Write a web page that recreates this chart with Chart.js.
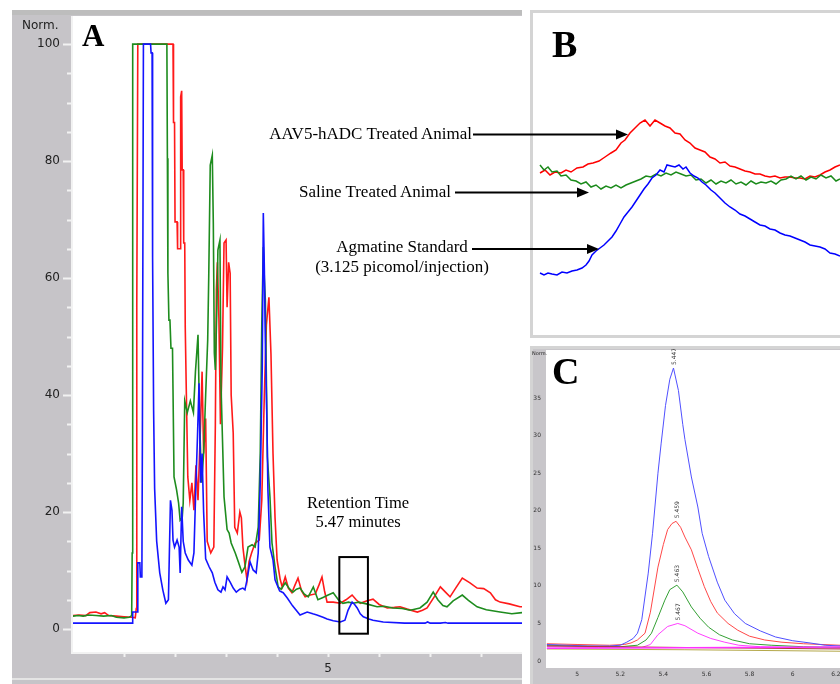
<!DOCTYPE html>
<html>
<head>
<meta charset="utf-8">
<script src="https://cdn.jsdelivr.net/npm/chart.js@4.4.1/dist/chart.umd.min.js"></script>
<style>
body { margin: 0; width: 840px; height: 684px; position: relative; background: #fff; overflow: hidden; }
.abs { position: absolute; }
.note { position: absolute; font-family: "Liberation Serif", serif; font-size: 17px; line-height: 17px; color: #000; white-space: nowrap; }
.letter { position: absolute; font-family: "Liberation Serif", serif; font-weight: bold; line-height: 1; color: #000; }
.norm { position: absolute; font-family: "DejaVu Sans", sans-serif; color: #222; white-space: nowrap; }
</style>
</head>
<body>

<!-- panel A frame -->
<div class="abs" style="left:12px;top:10px;width:510px;height:5px;background:#bdbdbd"></div>
<div class="abs" style="left:12px;top:15px;width:510px;height:663px;background:#c6c4c8">
  <canvas id="chartA" width="510" height="663"></canvas>
</div>
<div class="abs" style="left:12px;top:678px;width:510px;height:2px;background:#e4e4e4"></div>
<div class="abs" style="left:12px;top:680px;width:510px;height:4px;background:#c6c4c8"></div>
<div class="norm" style="left:22px;top:19px;font-size:12px;line-height:12px">Norm.</div>
<div class="letter" style="left:82px;top:20px;font-size:31px">A</div>

<!-- panel B frame -->
<div class="abs" style="left:530px;top:10px;width:320px;height:322px;border:3px solid #d4d4d4;background:#fff"></div>
<div class="abs" style="left:533px;top:13px;width:307px;height:322px">
  <canvas id="chartB" width="307" height="322"></canvas>
</div>
<div class="letter" style="left:552px;top:25px;font-size:38px">B</div>

<!-- panel C frame -->
<div class="abs" style="left:530px;top:346px;width:320px;height:345px;border:3px solid #d4d4d4;background:#c8c6ca"></div>
<div class="abs" style="left:533px;top:349px;width:307px;height:335px">
  <canvas id="chartC" width="307" height="335"></canvas>
</div>
<div class="norm" style="left:532px;top:351px;font-size:5px;line-height:5px">Norm.</div>
<div class="letter" style="left:552px;top:352px;font-size:38px">C</div>

<!-- annotations -->
<div class="note" style="right:368px;top:125px">AAV5-hADC Treated Animal</div>
<div class="note" style="right:389px;top:183px">Saline Treated Animal</div>
<div class="note" style="left:302px;width:200px;text-align:center;top:238px">Agmatine Standard</div>
<div class="note" style="left:302px;width:200px;text-align:center;top:258px">(3.125 picomol/injection)</div>
<div class="note" style="left:258px;width:200px;text-align:center;top:494px;font-size:16.5px">Retention Time</div>
<div class="note" style="left:258px;width:200px;text-align:center;top:513px;font-size:16.5px">5.47 minutes</div>

<svg class="abs" style="left:0;top:0" width="840" height="684">
  <g stroke="#000" stroke-width="2">
    <line x1="473" y1="134.5" x2="618" y2="134.5"/>
    <line x1="455" y1="192.5" x2="579" y2="192.5"/>
    <line x1="472" y1="249" x2="589" y2="249"/>
  </g>
  <g fill="#000">
    <polygon points="628,134.5 616,129.5 616,139.5"/>
    <polygon points="589,192.5 577,187.5 577,197.5"/>
    <polygon points="599,249 587,244 587,254"/>
  </g>
</svg>

<script>
// ---- Panel A: full chromatogram (time in minutes, normalised response) ----
const aRed = [[0,2.3],[0.12,2.4],[0.25,2.3],[0.33,2.8],[0.45,2.9],[0.55,2.6],[0.62,2.8],[0.7,2.3],[0.85,2.2],[1.0,2.1],[1.15,2.0],[1.22,1.9],[1.24,3.5],[1.25,55],[1.27,100],[1.96,100],[1.97,86.6],[1.99,86.6],[2.0,69.6],[2.04,69.6],[2.05,65],[2.1,65],[2.11,91],[2.13,92],[2.14,78.5],[2.16,78.5],[2.17,66],[2.19,66],[2.2,51.6],[2.22,41],[2.25,26],[2.29,22],[2.33,25],[2.37,20.3],[2.41,28],[2.45,22],[2.5,35],[2.53,44],[2.56,30],[2.6,36],[2.63,15],[2.7,13],[2.76,14],[2.79,35],[2.81,58],[2.83,62.7],[2.86,53],[2.89,35],[2.93,48],[2.96,66],[3.0,66.5],[3.02,55],[3.05,62.7],[3.08,60.8],[3.1,40],[3.14,33.5],[3.17,17.4],[3.22,16.4],[3.27,20],[3.3,19],[3.33,14],[3.37,11],[3.41,8.4],[3.45,11.5],[3.5,13],[3.57,14.7],[3.65,15.2],[3.7,22],[3.75,40],[3.79,52],[3.84,56.7],[3.88,47],[3.92,30],[3.96,19],[4.0,11.8],[4.06,8.5],[4.1,7.2],[4.16,8.9],[4.22,7.0],[4.29,6.2],[4.35,7.5],[4.41,8.7],[4.48,6.5],[4.55,5.5],[4.65,5.8],[4.75,6.0],[4.82,7.5],[4.88,8.9],[4.93,6.5],[4.98,4.6],[5.1,4.6],[5.24,4.4],[5.35,5.0],[5.47,5.8],[5.55,5.0],[5.63,4.4],[5.75,4.8],[5.88,5.1],[6.0,4.2],[6.16,3.6],[6.3,3.7],[6.41,3.8],[6.55,3.4],[6.75,2.9],[6.85,3.2],[6.94,3.6],[7.08,5.5],[7.2,7.2],[7.3,6.3],[7.39,5.5],[7.5,7.0],[7.63,8.7],[7.78,7.9],[7.92,7.0],[8.05,6.9],[8.18,6.2],[8.28,5.0],[8.37,4.6],[8.55,4.3],[8.76,3.8],[8.8,3.8]];
const aGreen = [[0,2.2],[0.1,2.3],[0.2,2.2],[0.3,2.4],[0.45,2.3],[0.6,2.2],[0.75,2.3],[0.85,2.0],[1.0,1.9],[1.1,2.0],[1.15,2.3],[1.16,13],[1.17,100],[1.84,100],[1.85,80.5],[1.86,60.8],[1.88,52.8],[1.9,52.8],[1.92,48],[1.95,48],[1.96,40.9],[1.98,26],[2.03,23.8],[2.07,21.5],[2.1,18.6],[2.14,19],[2.16,21.5],[2.19,39],[2.24,37],[2.3,39],[2.36,37],[2.4,44],[2.45,50.3],[2.48,36],[2.52,25],[2.56,30],[2.6,40],[2.64,49.4],[2.66,60],[2.69,79.3],[2.73,81],[2.75,69.4],[2.77,47.2],[2.79,44.3],[2.82,55],[2.84,64.8],[2.88,66.5],[2.9,42],[2.93,32.3],[2.96,22.6],[3.02,17],[3.06,16.4],[3.1,14.7],[3.18,13],[3.24,11.5],[3.31,9.7],[3.37,10.6],[3.43,14],[3.51,14.4],[3.57,14],[3.63,17.4],[3.67,30],[3.7,52],[3.73,65.3],[3.75,60],[3.77,56.2],[3.81,29.4],[3.86,22.6],[3.9,14.7],[3.96,10.6],[4.02,7.2],[4.08,6.8],[4.16,7.9],[4.24,6.9],[4.31,6.3],[4.38,6.8],[4.45,7.0],[4.53,6.0],[4.61,5.5],[4.71,7.2],[4.8,5.0],[4.9,5.4],[5.0,5.8],[5.1,6.2],[5.2,5.0],[5.29,4.4],[5.4,4.6],[5.49,4.4],[5.6,4.6],[5.75,4.3],[5.96,3.8],[6.1,3.9],[6.27,3.6],[6.45,3.5],[6.61,3.2],[6.8,3.6],[6.94,4.6],[7.06,6.3],[7.15,5.0],[7.25,4.0],[7.33,3.8],[7.45,4.8],[7.63,5.8],[7.75,4.9],[7.92,3.8],[8.1,3.3],[8.37,2.9],[8.6,2.6],[8.8,2.8]];
const aBlue = [[0,1.0],[1.0,1.0],[1.16,1.0],[1.17,2.9],[1.26,2.9],[1.27,11.3],[1.31,11.3],[1.32,8.9],[1.35,8.9],[1.36,32.8],[1.38,100],[1.52,100],[1.53,98.5],[1.55,98.5],[1.56,63.6],[1.58,37.4],[1.6,24],[1.64,15],[1.7,9.6],[1.76,6.7],[1.82,4.4],[1.87,5],[1.91,22],[1.94,20.3],[1.96,15.2],[1.99,14],[2.04,15.2],[2.08,14],[2.1,9.6],[2.13,20.9],[2.16,15],[2.2,13],[2.26,11.8],[2.33,10.9],[2.37,13],[2.41,25],[2.44,33],[2.47,42],[2.5,25],[2.53,30],[2.56,20],[2.6,12],[2.67,10.6],[2.73,9.6],[2.78,8],[2.84,6.7],[2.9,6.3],[2.94,7.2],[2.98,6.7],[3.02,8.9],[3.08,8],[3.14,7],[3.2,6.3],[3.27,6.8],[3.33,7],[3.37,6.7],[3.41,8.4],[3.47,11.5],[3.53,10.1],[3.59,9.6],[3.63,13],[3.67,25],[3.71,45],[3.73,71.1],[3.75,61.7],[3.77,49],[3.8,35.7],[3.82,23.8],[3.86,14],[3.92,11.8],[3.96,8.4],[4.05,6.5],[4.12,6.2],[4.2,5.3],[4.3,4.0],[4.45,2.4],[4.59,2.9],[4.7,2.6],[4.78,2.4],[4.9,2.0],[4.98,1.7],[5.1,1.4],[5.24,1.2],[5.33,1.5],[5.39,3.2],[5.47,4.6],[5.52,4.2],[5.57,3.6],[5.63,2.6],[5.69,2.1],[5.8,1.7],[5.88,1.5],[6.08,1.2],[6.5,1.0],[6.9,1.0],[6.95,1.2],[7.0,1.0],[7.2,1.0],[7.3,1.1],[7.35,1.0],[8.8,1.0]];
const aTicksX = [1, 2, 3, 4, 5, 6, 7, 8];
const aTicksY = [0, 5, 10, 15, 20, 25, 30, 35, 40, 45, 50, 55, 60, 65, 70, 75, 80, 85, 90, 95, 100];
const boxWindow = [5.22, 5.78];   // retention-time window (min)
const boxRange = [-0.8, 12.3];    // box height (norm.)

// ---- Panel B: close-up of the 5.47 min peak (scan, signal) ----
const bRed = [[7,160],[12,163],[17,158],[22,161],[28,160],[33,163],[38,161],[44,165],[50,166],[55,169],[60,170],[66,172],[72,176],[78,180],[83,183],[88,190],[92,193],[97,200],[102,205],[107,210],[112,213],[117,207],[122,213],[127,210],[132,207],[137,205],[142,200],[147,199],[152,193],[157,190],[162,185],[167,183],[172,181],[177,176],[182,174],[187,170],[192,171],[197,167],[202,166],[207,164],[212,162],[217,161],[222,159],[227,159],[232,157],[237,156],[242,157],[247,155],[252,156],[257,156],[262,155],[267,155],[272,154],[277,157],[282,156],[287,158],[292,161],[297,163],[302,166],[307,168]];
const bGreen = [[7,168],[11,163],[15,166],[19,161],[24,162],[28,157],[33,158],[38,153],[43,152],[48,149],[53,151],[58,146],[63,148],[68,144],[73,147],[78,145],[83,148],[88,145],[93,148],[98,150],[103,152],[108,154],[113,157],[118,156],[123,159],[128,157],[133,160],[138,158],[143,161],[148,159],[153,157],[158,158],[163,153],[168,154],[173,150],[178,153],[183,149],[188,152],[193,150],[198,153],[203,149],[208,151],[213,148],[218,152],[223,149],[228,151],[233,150],[238,152],[243,149],[248,153],[253,154],[258,157],[263,154],[268,157],[273,153],[278,156],[283,154],[288,158],[293,155],[298,157],[303,152],[307,154]];
const bBlue = [[7,60],[11,58],[15,60],[19,59],[24,58],[29,61],[34,60],[39,62],[44,63],[49,65],[53,68],[56,72],[59,78],[63,82],[67,85],[71,88],[75,92],[79,96],[83,102],[87,109],[91,116],[95,121],[99,126],[103,132],[107,138],[111,144],[115,149],[119,155],[123,158],[127,163],[131,161],[134,168],[138,167],[142,166],[146,168],[150,164],[153,166],[157,160],[161,157],[165,155],[169,151],[173,148],[178,143],[182,140],[187,135],[192,130],[197,126],[202,123],[207,119],[212,117],[217,114],[222,111],[227,108],[232,107],[237,104],[242,103],[247,100],[252,98],[257,97],[262,95],[267,93],[272,91],[277,88],[282,87],[287,86],[292,84],[297,80],[302,79],[307,77]];

// ---- Panel C: standards overlay (time in minutes, normalised response) ----
const cBlue = [[4.86,2.2],[4.95,2.1],[5.05,2.0],[5.15,2.0],[5.2,2.1],[5.23,2.5],[5.26,3.0],[5.28,3.7],[5.3,5.5],[5.33,11.7],[5.35,17],[5.375,25],[5.39,29],[5.41,34],[5.43,37.5],[5.447,39],[5.47,36],[5.49,31.5],[5.5,29.5],[5.53,24.5],[5.56,20.5],[5.58,17],[5.61,13.9],[5.65,10.5],[5.685,8.1],[5.73,6.3],[5.78,5.0],[5.85,4.0],[5.92,3.2],[6.0,2.7],[6.08,2.4],[6.15,2.1],[6.22,2.0]];
const cRed = [[4.86,2.3],[5.0,2.2],[5.15,2.1],[5.22,2.2],[5.25,2.4],[5.28,2.8],[5.315,3.7],[5.34,6.5],[5.375,12.5],[5.4,15.5],[5.42,17.5],[5.44,18.3],[5.459,18.6],[5.48,17.8],[5.5,16.5],[5.53,14.8],[5.56,12.3],[5.59,9.9],[5.62,7.9],[5.65,6.4],[5.7,5.0],[5.745,4.1],[5.8,3.3],[5.87,2.8],[5.95,2.5],[6.05,2.3],[6.22,2.1]];
const cGreen = [[4.86,2.1],[5.0,2.0],[5.2,1.9],[5.28,2.1],[5.32,2.8],[5.345,3.7],[5.375,5.8],[5.407,8.1],[5.43,9.5],[5.463,10.1],[5.49,9.2],[5.53,7.2],[5.57,5.7],[5.61,4.5],[5.66,3.5],[5.72,2.8],[5.8,2.3],[5.9,2.1],[6.05,1.9],[6.22,1.8]];
const cMagenta = [[4.86,1.9],[5.1,1.8],[5.3,1.8],[5.34,2.2],[5.375,3.5],[5.42,4.6],[5.467,5.0],[5.5,4.7],[5.56,3.7],[5.62,3.0],[5.685,2.5],[5.75,2.1],[5.85,1.9],[6.0,1.8],[6.22,1.7]];
const cMagentaBase = [[4.86,1.7],[5.5,1.75],[6.22,1.85]];
const cOliveBase = [[4.86,1.6],[5.5,1.5],[6.22,1.3]];
const cMaroonBase = [[4.86,2.0],[5.5,1.8],[6.22,1.6]];
const cPeakLabels = ['5.447', '5.459', '5.463', '5.467'];
const cTicksX = [5, 5.2, 5.4, 5.6, 5.8, 6, 6.2];
const cTicksY = [0, 5, 10, 15, 20, 25, 30, 35];

Chart.defaults.animation = false;
Chart.defaults.responsive = false;
Chart.defaults.devicePixelRatio = 1;

const whitePlot = {
    id: 'whitePlot',
    beforeDraw(chart) {
        const a = chart.chartArea, ctx = chart.ctx;
        ctx.save();
        ctx.fillStyle = '#fff';
        ctx.fillRect(a.left, a.top, a.right - a.left, a.bottom - a.top);
        ctx.restore();
    }
};

// axis lines and ticks of panel A (long major, short minor)
const aAxes = {
    id: 'aAxes',
    afterDraw(chart) {
        const { ctx, chartArea: a, scales: { x, y } } = chart;
        ctx.save();
        ctx.strokeStyle = '#f2f2f2';
        ctx.lineWidth = 2;
        ctx.beginPath();
        ctx.moveTo(a.left - 1, a.top);
        ctx.lineTo(a.left - 1, a.bottom + 1);
        ctx.lineTo(a.right, a.bottom + 1);
        y.ticks.forEach(t => {
            const py = Math.round(y.getPixelForValue(t.value)) + 0.5;
            const len = t.value % 20 === 0 ? 10 : 6;
            ctx.moveTo(a.left - len, py);
            ctx.lineTo(a.left - 1, py);
        });
        x.ticks.forEach(t => {
            const px = Math.round(x.getPixelForValue(t.value)) + 0.5;
            ctx.moveTo(px, a.bottom + 1);
            ctx.lineTo(px, a.bottom + 5);
        });
        ctx.stroke();
        ctx.restore();
    }
};

const retentionBox = {
    id: 'retentionBox',
    afterDatasetsDraw(chart) {
        const { ctx, scales: { x, y } } = chart;
        const l = x.getPixelForValue(boxWindow[0]), r = x.getPixelForValue(boxWindow[1]);
        const t = y.getPixelForValue(boxRange[1]), b = y.getPixelForValue(boxRange[0]);
        ctx.save();
        ctx.strokeStyle = '#000';
        ctx.lineWidth = 2;
        ctx.strokeRect(l, t, r - l, b - t);
        ctx.restore();
    }
};

const peakText = {
    id: 'peakText',
    afterDatasetsDraw(chart) {
        const ctx = chart.ctx;
        chart.data.datasets.forEach((ds, i) => {
            if (!ds.peakLabel) return;
            let best = 0;
            ds.data.forEach((p, j) => { if (p[1] > ds.data[best][1]) best = j; });
            const pt = chart.getDatasetMeta(i).data[best];
            ctx.save();
            ctx.translate(pt.x + 1, pt.y - 3);
            ctx.rotate(-Math.PI / 2);
            ctx.font = '6px "DejaVu Sans"';
            ctx.fillStyle = '#333';
            ctx.textBaseline = 'middle';
            ctx.fillText(ds.peakLabel, 0, 0);
            ctx.restore();
        });
    }
};

// stop the tick labels from pushing the plot area inwards
function fixedSize(w, h) {
    return s => {
        if (w !== null) s.width = w;
        if (h !== null) s.height = h;
        s.paddingTop = 0; s.paddingBottom = 0; s.paddingLeft = 0; s.paddingRight = 0;
    };
}

function line(data, color, width) {
    return { data: data, borderColor: color, borderWidth: width, pointRadius: 0, tension: 0, fill: false };
}

new Chart(document.getElementById('chartA'), {
    type: 'line',
    data: {
        datasets: [
            line(aBlue, '#1414ff', 1.6),
            line(aGreen, '#1e8c1e', 1.6),
            line(aRed, '#ff1a1a', 1.6)
        ]
    },
    options: {
        layout: { padding: { top: 1, left: 0, right: 0, bottom: 0 } },
        plugins: { legend: { display: false }, tooltip: { enabled: false } },
        scales: {
            x: {
                type: 'linear', min: 0, max: 8.8,
                afterBuildTicks: s => { s.ticks = aTicksX.map(v => ({ value: v })); },
                afterFit: fixedSize(null, 26),
                grid: { display: false, drawTicks: false },
                border: { display: false },
                ticks: {
                    autoSkip: false, maxRotation: 0, padding: 10,
                    color: '#222', font: { family: 'DejaVu Sans', size: 12 },
                    callback: v => (v === 5 ? '5' : '')
                }
            },
            y: {
                type: 'linear', min: -3.93, max: 104.8,
                afterBuildTicks: s => { s.ticks = aTicksY.map(v => ({ value: v })); },
                afterFit: fixedSize(61, null),
                grid: { display: false, drawTicks: false },
                border: { display: false },
                ticks: {
                    autoSkip: false, padding: 13,
                    color: '#222', font: { family: 'DejaVu Sans', size: 12 },
                    callback: v => (v % 20 === 0 ? String(v) : '')
                }
            }
        }
    },
    plugins: [whitePlot, aAxes, retentionBox]
});

new Chart(document.getElementById('chartB'), {
    type: 'line',
    data: {
        datasets: [
            line(bBlue, '#0000ff', 1.5),
            line(bGreen, '#1a8a1a', 1.5),
            line(bRed, '#ff0000', 1.5)
        ]
    },
    options: {
        layout: { padding: 0 },
        plugins: { legend: { display: false }, tooltip: { enabled: false } },
        scales: {
            x: { type: 'linear', display: false, min: 0, max: 307 },
            y: { type: 'linear', display: false, min: -2, max: 320 }
        }
    }
});

const cSets = [
    line(cMagentaBase, '#ff30ff', 1.5),
    line(cMaroonBase, '#b03a3a', 1),
    line(cOliveBase, '#b4a84a', 1),
    Object.assign(line(cBlue, '#5050ff', 1), { peakLabel: cPeakLabels[0] }),
    Object.assign(line(cRed, '#ff4848', 1), { peakLabel: cPeakLabels[1] }),
    Object.assign(line(cGreen, '#34a034', 1), { peakLabel: cPeakLabels[2] }),
    Object.assign(line(cMagenta, '#ff40ff', 1), { peakLabel: cPeakLabels[3] })
];

new Chart(document.getElementById('chartC'), {
    type: 'line',
    data: { datasets: cSets },
    options: {
        layout: { padding: { top: 1, left: 0, right: 0, bottom: 0 } },
        plugins: { legend: { display: false }, tooltip: { enabled: false } },
        scales: {
            x: {
                type: 'linear', min: 4.856, max: 6.219,
                afterBuildTicks: s => { s.ticks = cTicksX.map(v => ({ value: v })); },
                afterFit: fixedSize(null, 16),
                grid: { display: false, drawTicks: false },
                border: { display: false },
                ticks: {
                    autoSkip: false, maxRotation: 0, padding: 3,
                    color: '#333', font: { family: 'DejaVu Sans', size: 6 },
                    callback: v => String(Number(v.toFixed(1)))
                }
            },
            y: {
                type: 'linear', min: -0.93, max: 41.4,
                afterBuildTicks: s => { s.ticks = cTicksY.map(v => ({ value: v })); },
                afterFit: fixedSize(13, null),
                grid: { display: false, drawTicks: false },
                border: { display: false },
                ticks: {
                    autoSkip: false, padding: 5,
                    color: '#333', font: { family: 'DejaVu Sans', size: 6 },
                    callback: v => String(v)
                }
            }
        }
    },
    plugins: [whitePlot, peakText]
});
</script>
</body>
</html>
